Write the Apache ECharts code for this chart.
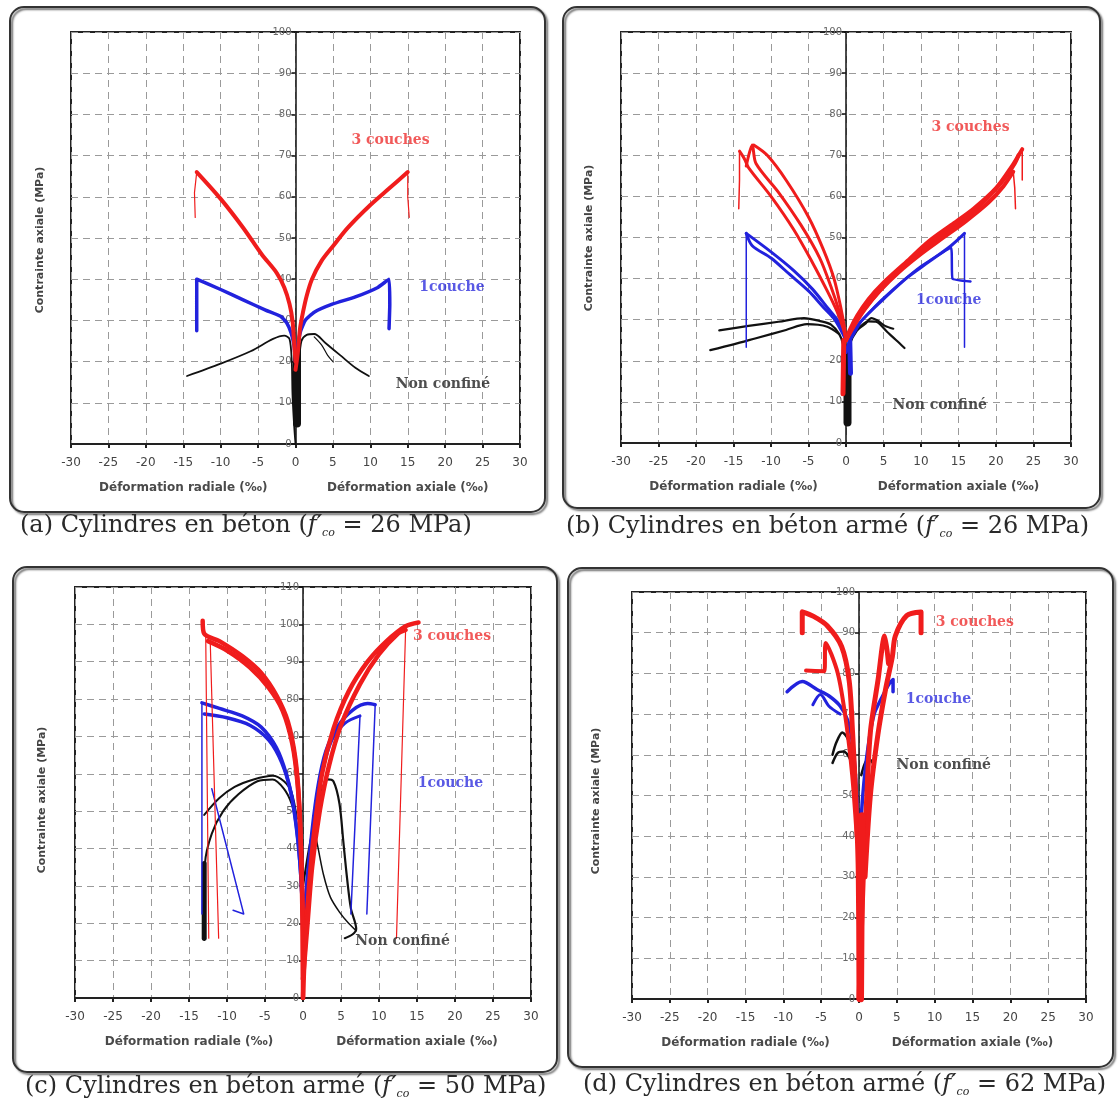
<!DOCTYPE html>
<html>
<head>
<meta charset="utf-8">
<script src="https://cdn.jsdelivr.net/npm/echarts@6/dist/echarts.min.js"></script>
<style>
html, body { margin: 0; padding: 0; background: #fff; }
#main { width: 1118px; height: 1099px; }
</style>
</head>
<body>
<div id="main"></div>
<script>
// axes
var xMin = -30, xMax = 30, xStep = 5;
var yMaxs = [100, 100, 110, 100];
var yStep = 10;
var xNameLeft = 'Déformation radiale (‰)';
var xNameRight = 'Déformation axiale (‰)';
var yName = 'Contrainte axiale (MPa)';
var captionRefs = ['(a) Cylindres en béton (', '(b) Cylindres en béton armé (', '(c) Cylindres en béton armé (', '(d) Cylindres en béton armé ('];
var captionMPa = [' = 26 MPa)', ' = 26 MPa)', ' = 50 MPa)', ' = 62 MPa)'];

// ---- (a) béton, f'co = 26 MPa ----
var aRedL = [[0,20],[-0.2,25],[-0.4,30],[-0.8,34],[-1.5,38],[-2.5,41.5],[-4.5,46],[-7,52.5],[-10,59.5],[-13.2,66]];
var aRedLDrop = [[-13.2,66],[-13.5,61],[-13.4,55]];
var aRedR = [[0,18],[0.3,22],[0.6,28],[1,32],[1.5,36],[2.2,40],[3.5,44.5],[5,48],[7,52.5],[10,58],[12.5,62],[15,66]];
var aRedRDrop = [[15,66],[15,60],[15.2,55]];
var aBlueL = [[0,20],[-0.2,24],[-0.6,27],[-1.2,29.5],[-2,31],[-4,32.5],[-7,35],[-10,37.5],[-13.2,40],[-13.2,27.5]];
var aBlueR = [[0,20],[0.3,24],[0.7,27.5],[1.3,30],[2.5,32],[5,34],[8,35.7],[11,38],[12.5,40],[12.6,34],[12.5,28]];
var aBlackL = [[0,0],[-0.2,5],[-0.4,12],[-0.5,20],[-0.8,25.5],[-1.5,26.3],[-3,25.5],[-6,22.5],[-10,19.5],[-14.5,16.5]];
var aBlackR = [[0,5],[0.3,12],[0.5,20],[0.8,25],[1.5,26.5],[2.5,26.7],[4,24.5],[6,21.5],[8,18.5],[9.8,16.5]];
var aBlackR2 = [[2.5,26],[3.5,24],[4.3,21.5],[5,20]];
var aBlackCore = [[0.2,5],[0.2,23]];
var aLabels = [[12.7,73.6,'3 couches'],[20.9,38,'1couche'],[19.7,14.4,'Non confiné']];

// ---- (b) béton armé, f'co = 26 MPa ----
var bRedL1 = [[0,25],[-0.4,28],[-1.2,32],[-2.5,37],[-4.5,44],[-7,52],[-10,60],[-13,67],[-13.5,69],[-14.2,71]];
var bRedLDrop = [[-14.2,71],[-14.2,64],[-14.3,57]];
var bRedL2 = [[0,25],[-0.3,28],[-0.9,32],[-2,38],[-3.5,45],[-6,53],[-9,61],[-12,68],[-12.5,72.5],[-13.3,67.4]];
var bRedL3 = [[0,25],[-0.2,28],[-0.7,33],[-1.6,40],[-3,47],[-5,55],[-8,64],[-10.5,70],[-12.3,72.5]];
var bRedR1 = [[0,25],[0.5,27.5],[1.5,31],[3,35],[5,39],[8,44],[11,49],[14,53],[17,57],[20,62],[22,67],[23.5,71.5]];
var bRedRDrop1 = [[23.5,71.5],[23.5,64]];
var bRedR2 = [[0,25],[0.7,27.5],[2,31.5],[3.5,35],[6,40],[9,45],[12,49.5],[15,53.5],[18,58],[21,64],[22.5,68],[23,70]];
var bRedR3 = [[0,25],[0.9,28],[2.5,32.5],[4.5,37],[7,41.5],[10,46],[13,50],[16,54],[19,58.5],[21,62.5],[22.3,66]];
var bRedRDrop2 = [[22.3,66],[22.5,62],[22.6,57]];
var bRedCore = [[-0.4,12],[-0.3,25]];
var bBlueL1 = [[0,25],[-1,29.5],[-2.5,33],[-4.5,37.5],[-7,42],[-10,46.5],[-13.3,51]];
var bBlueL2 = [[0,25],[-1.5,30],[-3,33],[-5,37],[-7.5,41],[-10,45],[-12.5,48],[-13.3,51]];
var bBlueLDrop = [[-13.3,51],[-13.3,40],[-13.3,23.3]];
var bBlueR1 = [[0,22],[0.5,25],[1.5,28.5],[3,31.5],[5,35],[8,40],[11,44],[14,48],[15.8,51]];
var bBlueRDrop = [[15.8,51],[15.8,23.3]];
var bBlueR2 = [[0,22],[0.6,25],[2,29.5],[4,33.5],[7,38.5],[10,43],[14,47.5],[14.2,40],[16.6,39.3]];
var bBlueCore = [[0.6,17],[0.5,25]];
var bBlackL1 = [[0,18],[-0.4,24],[-0.9,26.5],[-2,28.8],[-3.3,29.6],[-5.6,30.4],[-9,29.5],[-13,28.5],[-16.9,27.4]];
var bBlackL2 = [[-0.9,26.5],[-2.5,28.3],[-5.2,28.9],[-8,27.5],[-12,25.5],[-15,24],[-18.1,22.6]];
var bBlackR1 = [[0,18],[0.5,24],[1.5,27.5],[2.5,28.9],[3.4,30.4],[4.2,29.8],[5.2,28.5],[6.3,27.8]];
var bBlackR2 = [[1.5,27.5],[3,29.6],[4,29.5],[5.5,27],[6.7,25],[7.8,23.1]];
var bBlackCore = [[0.2,5],[0.2,22]];
var bLabels = [[16.6,76.9,'3 couches'],[13.7,34.6,'1couche'],[12.5,9.2,'Non confiné']];

// ---- (c) béton armé, f'co = 50 MPa ----
var cRedL1 = [[0,0],[0,18],[-0.2,35],[-0.5,52],[-1,64],[-2,74],[-3.5,81],[-5.5,87],[-8,91.5],[-11,95.5],[-13,97.5],[-13.2,101]];
var cRedL2 = [[0,5],[-0.1,25],[-0.3,42],[-0.7,57],[-1.4,68],[-2.7,77],[-4.5,83],[-7,88.5],[-10,93],[-12.5,95.5]];
var cRedThin1 = [[-12.8,97],[-12.4,16]];
var cRedThin2 = [[-12.2,95],[-11.1,16]];
var cRedR1 = [[0,0],[0.3,15],[0.8,30],[1.5,45],[2.5,60],[4,72],[6,82],[8.5,90],[11,95.5],[13.5,99.5],[15.2,100.5]];
var cRedR2 = [[0,5],[0.6,20],[1.2,35],[2.2,50],[3.4,62],[5,73],[7.5,84],[10,92],[12.5,97.5],[13.5,98.5]];
var cRedThin3 = [[13.5,98.5],[12.3,16]];
var cBlueL1 = [[0,20],[-0.3,33],[-0.7,43],[-1.3,52],[-2.2,60],[-3.5,67],[-5.5,72.5],[-8,75.5],[-11,77.5],[-13.3,79]];
var cBlueL2 = [[0,10],[-0.1,25],[-0.4,36],[-0.9,46],[-1.6,55],[-2.8,63],[-4.5,69],[-7,73],[-10,75],[-13,76]];
var cBlueThin1 = [[-13.3,79],[-13.3,22.5]];
var cBlueThin2 = [[-12,56],[-7.8,22.5],[-9.2,23.5]];
var cBlueR1 = [[0,15],[0.5,30],[1.2,45],[2,57],[3,66],[4.5,72.5],[6.5,77],[8.5,78.8],[9.5,78.5]];
var cBlueThin3 = [[9.5,78.5],[8.4,22.5]];
var cBlueR2 = [[0,20],[0.7,35],[1.5,48],[2.5,60],[3.8,69],[5.5,73.5],[7.5,75.5]];
var cBlueThin4 = [[7.5,75.5],[6.3,22.5]];
var cBlackL1 = [[0,30],[-0.3,38],[-0.8,46],[-1.5,52],[-2.5,56],[-4,58.5],[-6,58],[-8.5,54.5],[-10.5,50],[-12,44],[-12.9,36],[-13,25],[-13,15.5]];
var cBlackL2 = [[-0.8,48],[-1.5,55],[-2.5,58],[-4,59.5],[-6.5,58.5],[-9,56.5],[-11,53.5],[-13,49]];
var cBlackThick = [[-13,16],[-13,36]];
var cBlackR1 = [[0,30],[0.8,40],[1.6,48],[2.4,55],[3.2,58.5],[4,58],[4.8,52],[5.3,42],[5.8,32],[6.3,24],[7,18.5],[6.5,17],[5.5,16]];
var cBlackR2 = [[1.5,45],[2,40],[2.7,33],[3.6,27],[4.8,23],[6,20],[7,18]];
var cLabels = [[19.6,96.7,'3 couches'],[19.4,57.5,'1couche'],[13.1,15.2,'Non confiné']];

// ---- (d) béton armé, f'co = 62 MPa ----
var dRedL1 = [[0,0],[-0.1,31.7],[-0.4,48.6],[-0.85,65.5],[-1.3,78.2],[-2.3,86.6],[-4.2,91.7],[-6,94],[-7.5,95.1],[-7.5,90]];
var dRedL2 = [[-0.3,40],[-0.9,55],[-1.7,68],[-2.8,80],[-4.4,87.5],[-4.6,80.5],[-7,80.7]];
var dRedR1 = [[0,0],[0.6,31.7],[1,48.6],[1.5,65.5],[2.5,78.2],[3.4,89.2],[3.9,82.4]];
var dRedR2 = [[0.8,30],[1.5,50],[2.5,65],[3.5,76],[4.4,84],[4.8,89.2],[6.3,94.2],[8.2,95.1],[8.2,90]];
var dRedCore = [[0.2,0],[0.3,30],[0.4,45]];
var dBlueL1 = [[0,35],[-0.3,50],[-0.8,62],[-1.5,68.5],[-2.5,72],[-4,74.5],[-5.5,76],[-7.5,78],[-9.5,75.5]];
var dBlueL2 = [[-2.5,70],[-4,72],[-5.1,74.8],[-6.1,72.3]];
var dBlueR = [[0,35],[0.5,50],[1.2,62],[2,70],[3,74],[4,77.5],[4.5,78.5],[4.5,75.5]];
var dBlackL1 = [[-0.4,55],[-0.8,60],[-1.5,64],[-2.2,65.5],[-3,63],[-3.5,60]];
var dBlackL2 = [[-0.6,56],[-1.2,59],[-2,60.8],[-2.8,60.5],[-3.5,58]];
var dBlackR = [[0.3,55],[0.8,58],[1.3,59],[1.8,58]];
var dLabels = [[15.3,92.6,'3 couches'],[10.5,73.5,'1couche'],[11.2,57.5,'Non confiné']];

var RED = '#f01c1c', BLUE = '#2222dd', BLACK = '#111';
var labelColors = ['#ee3030', '#3030dd', '#222'];

var grids = [
  { left: 71, top: 32, width: 449, height: 412 },
  { left: 621, top: 32, width: 450, height: 411 },
  { left: 75, top: 587, width: 456, height: 411 },
  { left: 632, top: 592, width: 454, height: 407 }
];
var frames = [[10, 7, 535, 505], [563, 7, 537, 501], [13, 567, 544, 505], [568, 568, 545, 499]];
var captionPos = [[20, 526], [566, 527], [25, 1087], [583, 1085]];
var yNamePos = [[40, 240], [589, 238], [42, 800], [596, 801]];

function ln(p, data, color, w, smooth) {
  return {
    type: 'line', xAxisIndex: p, yAxisIndex: p, data: data,
    symbol: 'none', smooth: smooth === undefined ? 0.3 : smooth,
    lineStyle: { color: color, width: w, cap: 'round', join: 'round' },
    silent: true, animation: false
  };
}
function labelSeries(p, labels) {
  return {
    type: 'scatter', xAxisIndex: p, yAxisIndex: p, symbolSize: 1, silent: true, animation: false,
    itemStyle: { color: 'rgba(0,0,0,0)' }, z: 5,
    data: labels.map(function (l, i) {
      return { value: [l[0], l[1]], name: l[2], label: { color: labelColors[i] } };
    }),
    label: { show: true, position: 'inside', formatter: '{b}', fontFamily: 'DejaVu Serif', fontWeight: 'bold', fontSize: 14 }
  };
}

var series = [
  // (a)
  ln(0, aBlackL, BLACK, 1.8), ln(0, aBlackR, BLACK, 1.8), ln(0, aBlackR2, BLACK, 1.2), ln(0, aBlackCore, BLACK, 8, false),
  ln(0, aBlueL, BLUE, 3.5, 0.15), ln(0, aBlueR, BLUE, 3.5, 0.15),
  ln(0, aRedL, RED, 4), ln(0, aRedR, RED, 4), ln(0, aRedLDrop, RED, 1.2, false), ln(0, aRedRDrop, RED, 1.2, false),
  labelSeries(0, aLabels),
  // (b)
  ln(1, bBlackL1, BLACK, 2.2), ln(1, bBlackL2, BLACK, 2.2), ln(1, bBlackR1, BLACK, 2.2), ln(1, bBlackR2, BLACK, 2.2), ln(1, bBlackCore, BLACK, 8, false),
  ln(1, bBlueL1, BLUE, 3), ln(1, bBlueL2, BLUE, 3), ln(1, bBlueLDrop, BLUE, 1.5, false),
  ln(1, bBlueR1, BLUE, 3), ln(1, bBlueR2, BLUE, 2.5, 0.1), ln(1, bBlueRDrop, BLUE, 1.5, false), ln(1, bBlueCore, BLUE, 5, false),
  ln(1, bRedL1, RED, 3), ln(1, bRedL2, RED, 3), ln(1, bRedL3, RED, 3), ln(1, bRedLDrop, RED, 1.5, false),
  ln(1, bRedR1, RED, 4), ln(1, bRedR2, RED, 4), ln(1, bRedR3, RED, 4),
  ln(1, bRedRDrop1, RED, 1.5, false), ln(1, bRedRDrop2, RED, 1.5, false), ln(1, bRedCore, RED, 5, false),
  labelSeries(1, bLabels),
  // (c)
  ln(2, cBlackL1, BLACK, 2), ln(2, cBlackL2, BLACK, 2), ln(2, cBlackThick, BLACK, 5, false),
  ln(2, cBlackR1, BLACK, 2.2), ln(2, cBlackR2, BLACK, 1.5),
  ln(2, cBlueThin1, BLUE, 1.5, false), ln(2, cBlueThin2, BLUE, 1.5, false), ln(2, cBlueThin3, BLUE, 1.5, false), ln(2, cBlueThin4, BLUE, 1.5, false),
  ln(2, cBlueL1, BLUE, 3.5), ln(2, cBlueL2, BLUE, 3.5), ln(2, cBlueR1, BLUE, 3.5), ln(2, cBlueR2, BLUE, 3),
  ln(2, cRedThin1, RED, 1.2, false), ln(2, cRedThin2, RED, 1.2, false), ln(2, cRedThin3, RED, 1.2, false),
  ln(2, cRedL1, RED, 4.5), ln(2, cRedL2, RED, 4.5), ln(2, cRedR1, RED, 4.5), ln(2, cRedR2, RED, 4.5),
  labelSeries(2, cLabels),
  // (d)
  ln(3, dBlackL1, BLACK, 2.5), ln(3, dBlackL2, BLACK, 2.5), ln(3, dBlackR, BLACK, 2.5),
  ln(3, dBlueL1, BLUE, 3.5), ln(3, dBlueL2, BLUE, 3), ln(3, dBlueR, BLUE, 3.5),
  ln(3, dRedL1, RED, 5), ln(3, dRedL2, RED, 4), ln(3, dRedR1, RED, 5), ln(3, dRedR2, RED, 5), ln(3, dRedCore, RED, 7, false),
  labelSeries(3, dLabels)
];

var dash = { show: true, lineStyle: { color: '#9a9a9a', width: 1, type: [7, 5] } };
var xAxes = [], yAxes = [], graphics = [];
grids.forEach(function (g, p) {
  var nameStyle = { width: g.width / 2, align: 'center', fontSize: 12, fontWeight: 'bold', fontFamily: 'DejaVu Sans', color: '#4a4a4a' };
  xAxes.push({
    gridIndex: p, type: 'value', min: xMin, max: xMax, interval: xStep,
    axisLine: { onZero: false, lineStyle: { color: '#222', width: 2 } },
    axisTick: { show: true, length: 4, lineStyle: { color: '#222', width: 2 } },
    axisLabel: { color: '#444', fontSize: 12, fontFamily: 'DejaVu Sans', margin: 13 },
    splitLine: dash,
    name: '{l|' + xNameLeft + '}{r|' + xNameRight + '}',
    nameLocation: 'middle', nameGap: 38,
    nameTextStyle: { rich: { l: nameStyle, r: nameStyle } }
  });
  // the vertical axis sits on x = 0, in the middle of the plot
  yAxes.push({
    gridIndex: p, type: 'value', min: 0, max: yMaxs[p], interval: yStep,
    position: 'left', offset: -g.width * (0 - xMin) / (xMax - xMin),
    axisLine: { onZero: false, lineStyle: { color: '#111', width: 1.5 } },
    axisTick: { show: true, length: 4, lineStyle: { color: '#111', width: 1.5 } },
    axisLabel: { color: '#666', fontSize: 10, fontFamily: 'DejaVu Sans', margin: 4 },
    splitLine: dash
  });
  var f = frames[p];
  graphics.push({
    type: 'rect', z: 0, silent: true,
    shape: { x: f[0], y: f[1], width: f[2], height: f[3], r: 14 },
    style: { fill: 'none', stroke: '#333', lineWidth: 2, shadowColor: 'rgba(0,0,0,0.6)', shadowBlur: 2, shadowOffsetX: 2, shadowOffsetY: 2 }
  });
  graphics.push({
    type: 'text', x: yNamePos[p][0], y: yNamePos[p][1], rotation: Math.PI / 2, silent: true,
    style: { text: yName, fontSize: 11, fontWeight: 'bold', fontFamily: 'DejaVu Sans', fill: '#444', align: 'center', verticalAlign: 'middle' }
  });
  graphics.push({
    type: 'text', x: captionPos[p][0], y: captionPos[p][1], silent: true,
    style: {
      text: captionRefs[p] + '{i|f}{i|\u2032}{s|co}' + captionMPa[p],
      fontSize: 24, fontFamily: 'DejaVu Serif', fill: '#2a2a2a', align: 'left', verticalAlign: 'middle',
      rich: {
        i: { fontSize: 24, fontStyle: 'italic', fontFamily: 'DejaVu Serif', fill: '#2a2a2a' },
        s: { fontSize: 11, fontStyle: 'italic', fontFamily: 'DejaVu Serif', fill: '#2a2a2a', padding: [14, 0, 0, 0] }
      }
    }
  });
});

var chart = echarts.init(document.getElementById('main'), null, { renderer: 'canvas' });
chart.setOption({
  animation: false,
  backgroundColor: '#fff',
  grid: grids.map(function (g) {
    return { left: g.left, top: g.top, width: g.width, height: g.height, show: true, borderColor: '#222', borderWidth: 2, containLabel: false };
  }),
  xAxis: xAxes,
  yAxis: yAxes,
  series: series,
  graphic: graphics
});
</script>
</body>
</html>
